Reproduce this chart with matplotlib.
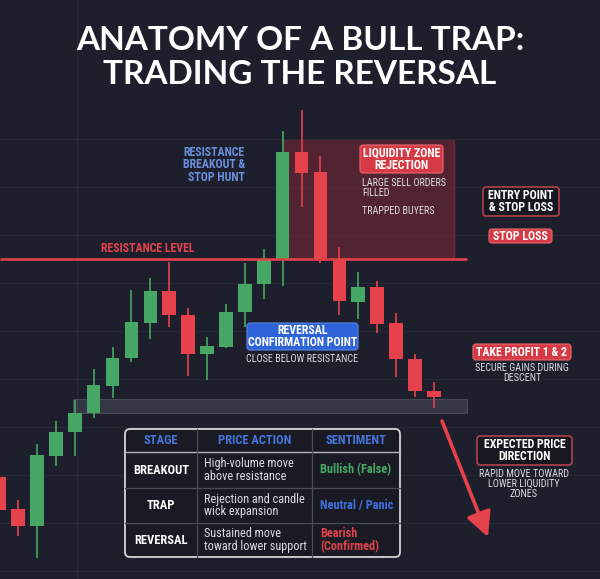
import matplotlib
matplotlib.use("Agg")
import matplotlib.pyplot as plt
from matplotlib.patches import FancyBboxPatch, Rectangle
from matplotlib import font_manager as fm

# ---------------- fonts ----------------
_WMAP = {"ultralight": 200, "light": 300, "normal": 400, "regular": 400, "book": 400,
         "medium": 500, "roman": 400, "semibold": 600, "demibold": 600, "demi": 600,
         "bold": 700, "heavy": 800, "extra bold": 800, "black": 900}
def _w(v):
    if isinstance(v, (int, float)):
        return int(v)
    return _WMAP.get(str(v).lower(), 400)

_avail = {f.name for f in fm.fontManager.ttflist}
def pick(*names):
    for n in names:
        if n in _avail:
            return n
    return "DejaVu Sans"

def pick_bold(names, minw=700):
    for n in names:
        ws = [_w(f.weight) for f in fm.fontManager.ttflist if f.name == n]
        good = [w for w in ws if w >= minw]
        if good:
            return n, min(good)
    return "DejaVu Sans", 700

TITLE_FONT, TITLE_W = pick_bold(["Montserrat", "Lato", "Open Sans", "Roboto", "Inter"], 700)
COND_FONT = pick("Roboto Condensed", "Liberation Sans Narrow", "DejaVu Sans Condensed", "Roboto")
BODY_FONT = pick("Roboto Condensed", "Liberation Sans Narrow", "Roboto")

# ---------------- data ----------------
opens  = [49.6, 42.9, 39.4, 54.0, 59.0, 62.9, 68.5, 74.4, 81.7, 88.3, 83.3, 75.2,
          76.7, 84.0, 89.8, 95.0, 117.3, 113.1, 95.0, 86.0, 89.2, 81.7, 74.2, 67.5]
highs  = [51.0, 44.8, 56.5, 61.3, 65.6, 72.1, 76.7, 88.5, 91.0, 94.4, 84.8, 78.8,
          85.6, 94.2, 97.1, 121.7, 126.0, 116.5, 97.5, 92.3, 90.4, 83.8, 75.2, 69.4]
lows   = [41.0, 37.3, 32.7, 51.9, 54.0, 61.9, 66.0, 73.5, 78.3, 80.8, 70.6, 69.8,
          76.5, 80.8, 86.7, 89.4, 105.8, 94.2, 83.3, 82.5, 79.6, 70.4, 66.3, 64.0]
closes = [42.7, 39.4, 54.2, 59.0, 62.9, 68.8, 74.4, 81.9, 88.3, 83.3, 75.2, 76.9,
          84.0, 89.8, 94.8, 117.3, 112.9, 95.0, 86.3, 89.2, 81.5, 74.2, 67.5, 66.3]

resistance_level = 95.0
support_zone = (62.9, 65.8)
liquidity_zone = (95.0, 119.8)

table_header = ["STAGE", "PRICE ACTION", "SENTIMENT"]
table_stages = ["BREAKOUT", "TRAP", "REVERSAL"]
table_actions = ["High-volume move\nabove resistance",
                 "Rejection and candle\nwick expansion",
                 "Sustained move\ntoward lower support"]
table_sentiments = ["Bullish (False)", "Neutral / Panic", "Bearish\n(Confirmed)"]

# ---------------- style ----------------
BG = "#1e1f2c"
GREEN = "#46a864"
RED = "#e5424c"
BLUE_TXT = "#6a8fdc"
BLUE_BOX = "#2f64d9"
WHITE = "#ffffff"
LIGHT = "#dcdce0"

W, H = 600, 579
fig = plt.figure(figsize=(W / 100, H / 100), dpi=100, facecolor=BG)

# price axes (full figure)
ax = fig.add_axes([0, 0, 1, 1], facecolor=BG)
ax.set_xlim(0.0423, 31.79)
ax.set_ylim(28.33, 148.96)
for s in ax.spines.values():
    s.set_visible(False)
ax.set_yticks(range(30, 130, 10))
ax.set_xticks([4.1])
ax.tick_params(length=0, labelleft=False, labelbottom=False)
ax.grid(True, color="#ffffff", alpha=0.045, lw=0.8)
ax.set_axisbelow(True)

n = len(opens)
xs = list(range(n))
# zones
ax.add_patch(Rectangle((3.89, support_zone[0]), 24.75 - 3.89, support_zone[1] - support_zone[0],
                       facecolor="#8e8fa0", alpha=0.22, edgecolor="#b0b0c0", lw=0.8, zorder=1))
ax.add_patch(Rectangle((15.0, liquidity_zone[0]), 24.06 - 15.0, liquidity_zone[1] - liquidity_zone[0],
                       facecolor="#c0313d", alpha=0.32, edgecolor="none", zorder=1))
ax.vlines(24.06, liquidity_zone[0], liquidity_zone[1], color="#c0313d", alpha=0.5, lw=1.0, zorder=1)

# candles
for i in xs:
    o, h, l, c = opens[i], highs[i], lows[i], closes[i]
    col = GREEN if c >= o else RED
    ax.vlines(i, l, h, color=col, lw=1.2, zorder=3)
    ax.bar(i, max(abs(c - o), 0.4), bottom=min(o, c), width=0.72, color=col, zorder=4, lw=0)

# resistance line
ax.hlines(resistance_level, 0.0423, 24.75, color="#e0404a", lw=1.9, zorder=5)

# ---------------- overlay (layout in pixels) ----------------
ov = fig.add_axes([0, 0, 1, 1], facecolor="none")
ov.set_xlim(0, W)
ov.set_ylim(H, 0)
ov.axis("off")

def box(x0, y0, x1, y1, fc, ec, lw=1.0, r=3, z=6):
    ov.add_patch(FancyBboxPatch((x0, y0), x1 - x0, y1 - y0,
                                boxstyle=f"round,pad=0,rounding_size={r}",
                                facecolor=fc, edgecolor=ec, lw=lw, zorder=z))

def txt(x, y, s, size, color=WHITE, weight="bold", ha="center", family=COND_FONT, ls=1.0, z=7):
    ov.text(x, y, s, fontsize=size, color=color, fontweight=weight, ha=ha, va="center",
            family=family, linespacing=ls, zorder=z)

# title
txt(300, 41, "ANATOMY OF A BULL TRAP:", 24, family=TITLE_FONT, weight=TITLE_W)
txt(300, 75, "TRADING THE REVERSAL", 24, family=TITLE_FONT, weight=TITLE_W)

# resistance breakout label
txt(245, 165, "RESISTANCE\nBREAKOUT &\nSTOP HUNT", 8.6, color=BLUE_TXT, ha="right", ls=0.95)
# resistance level label
txt(148, 248, "RESISTANCE LEVEL", 8.6, color="#e4424c")

# liquidity zone
box(360, 145, 443, 173, "#d63a45", "#e86a72", lw=0.8)
txt(401.5, 159, "LIQUIDITY ZONE\nREJECTION", 8.6, ls=0.95)
txt(362, 188, "LARGE SELL ORDERS\nFILLED", 7.3, color=LIGHT, weight="normal", ha="left", ls=0.95)
txt(362, 211, "TRAPPED BUYERS", 7.3, color=LIGHT, weight="normal", ha="left")

# entry point & stop loss
box(483, 187, 559, 216, "#17171f", "#b0404a", lw=1.2)
txt(521, 201.5, "ENTRY POINT\n& STOP LOSS", 8.6, ls=0.95)
box(489, 229, 552, 243, "#d63a45", "#e86a72", lw=0.8)
txt(520.5, 236, "STOP LOSS", 8.6)

# reversal confirmation
box(247, 323, 358, 350, BLUE_BOX, "#5a86e6", lw=0.8)
txt(302.5, 336.5, "REVERSAL\nCONFIRMATION POINT", 8.6, ls=0.95)
txt(302, 359, "CLOSE BELOW RESISTANCE", 7.3, color=LIGHT, weight="normal")

# take profit
box(473, 344, 571, 360, "#d63a45", "#e86a72", lw=0.8)
txt(522, 352, "TAKE PROFIT 1 & 2", 8.6)
txt(522, 373, "SECURE GAINS DURING\nDESCENT", 7.3, color=LIGHT, weight="normal", ls=0.95)

# expected direction
box(477, 436, 572, 465, "#17171f", "#b0404a", lw=1.2)
txt(524.5, 450.5, "EXPECTED PRICE\nDIRECTION", 8.6, ls=0.95)
txt(524, 484, "RAPID MOVE TOWARD\nLOWER LIQUIDITY\nZONES", 7.3, color=LIGHT, weight="normal", ls=0.95)

# arrow
ov.annotate("", xy=(488, 537), xytext=(442, 421),
            arrowprops=dict(arrowstyle="-|>,head_length=0.75,head_width=0.38",
                            color="#e5424c", lw=2.6, mutation_scale=20, shrinkA=0, shrinkB=0),
            zorder=6)

# ---------------- table ----------------
tx0, tx1, ty0, ty1 = 125, 400, 429, 557
cols = [125, 197, 312, 400]
rows = [429, 452, 488, 523, 557]
box(tx0, ty0, tx1, ty1, "#191a24", "#d4d4d8", lw=1.3, r=5, z=6)
ov.plot([tx0, tx1], [rows[1], rows[1]], color="#b8b8c0", lw=1.0, zorder=7)
for yy in rows[2:4]:
    ov.plot([tx0, tx1], [yy, yy], color="#4a4b58", lw=0.9, zorder=7)
for xx in cols[1:3]:
    ov.plot([xx, xx], [ty0, ty1], color="#4a4b58", lw=0.9, zorder=7)

hdr_y = (rows[0] + rows[1]) / 2
for j, h in enumerate(table_header):
    txt((cols[j] + cols[j + 1]) / 2, hdr_y, h, 9, color="#4676dc")

sent_colors = ["#46a864", "#3f70e0", "#e0424c"]
for r in range(3):
    cy = (rows[r + 1] + rows[r + 2]) / 2
    txt((cols[0] + cols[1]) / 2, cy, table_stages[r], 9, color=WHITE)
    txt(204, cy, table_actions[r], 8.8, color=LIGHT, weight="normal", ha="left", family=BODY_FONT, ls=0.95)
    txt(320, cy, table_sentiments[r], 8.8, color=sent_colors[r], ha="left", ls=0.95)

fig.savefig("out.png", dpi=100, facecolor=BG)
